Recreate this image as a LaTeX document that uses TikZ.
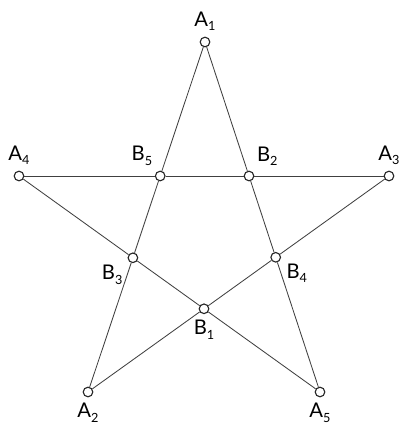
\documentclass[tikz,border=0pt]{standalone}
\usepackage{fontspec}
\setmainfont{Lato}
\usetikzlibrary{positioning}
\newcommand{\vlab}[2]{#1\raisebox{-0.45ex}{\small #2}}
\tikzset{
  vert/.style ={circle, draw=black!85, fill=white, line width=0.8pt,
                minimum size=0.24cm, inner sep=0pt},
  lab/.style  ={font=\Large, label distance=0.02cm},
  edge/.style ={draw=black!75, line width=0.6pt}
}
\begin{document}
\begin{tikzpicture}[x=0.025cm, y=-0.025cm]
\useasboundingbox (0,0) rectangle (404,425);
% outer points and inner points of the star
\foreach \l/\i/\x/\y/\pos in {A/1/205/42/above, A/2/88/392/below, A/3/389/176/above,
                              A/4/19/176/above, A/5/320/392/below,
                              B/1/204/308.8/below, B/2/249/176/60, B/3/132.9/257.8/205,
                              B/4/275.7/257.3/-15, B/5/160.2/176/120}{
  \node[vert, label={[lab]\pos:\vlab{\l}{\i}}] (\l\i) at (\x,\y) {};
}
% the five lines
\draw[edge] (A1) -- (B5) -- (B3) -- (A2);
\draw[edge] (A1) -- (B2) -- (B4) -- (A5);
\draw[edge] (A4) -- (B5) -- (B2) -- (A3);
\draw[edge] (A4) -- (B3) -- (B1) -- (A5);
\draw[edge] (A2) -- (B1) -- (B4) -- (A3);
\end{tikzpicture}
\end{document}
